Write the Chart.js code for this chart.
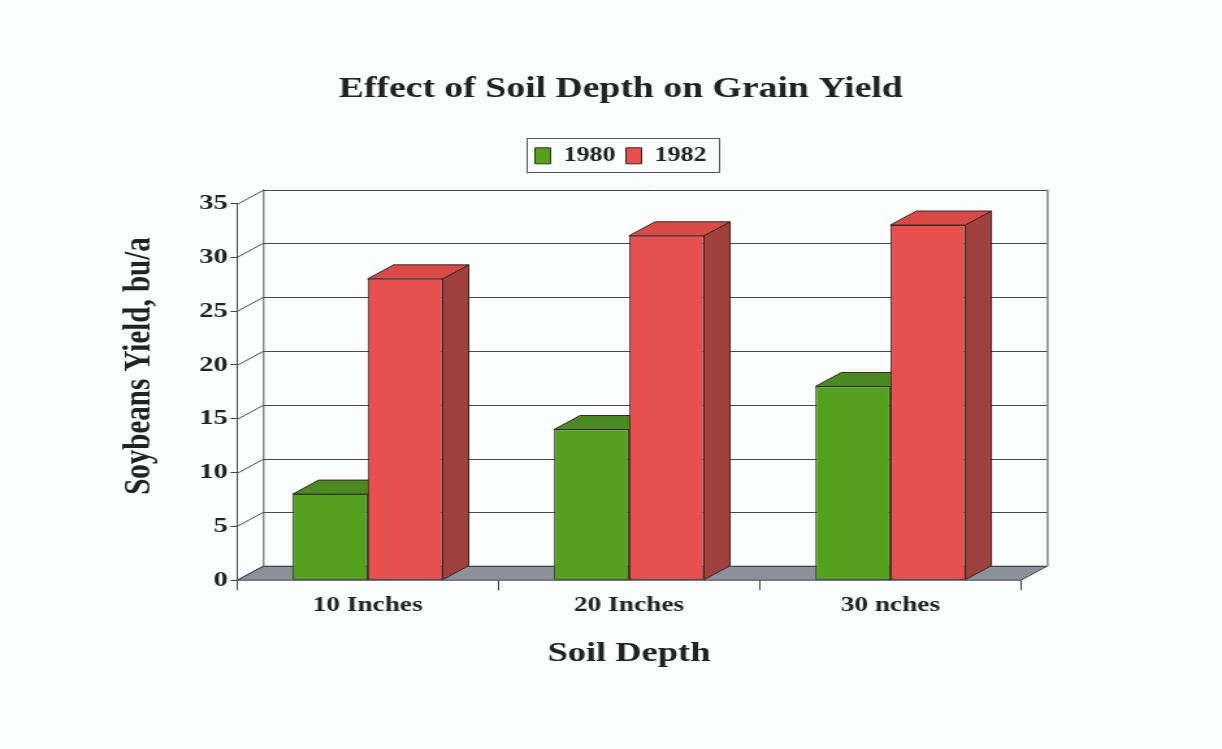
<!DOCTYPE html>
<html>
<head>
<meta charset="utf-8">
<script src="https://cdn.jsdelivr.net/npm/chart.js@4/dist/chart.umd.min.js"></script>
<style>
  html, body { margin: 0; padding: 0; background: #fcfefe; overflow: hidden; }
  #c { display: block; }
</style>
</head>
<body>
<canvas id="c" width="940" height="749" style="width:1222px;height:749px"></canvas>
<script>
const categories = ['10 Inches', '20 Inches', '30 nches'];
const yield1980 = [8, 14, 18];
const yield1982 = [28, 32, 33];
const seriesNames = ['1980', '1982'];
const yAxisTitle = 'Soybeans Yield, bu/a';

const DX = 20, DY = -14;
const FONT = '"Liberation Serif", "Times New Roman", serif';
const INK = '#222222';

function shade(ctx, pts, fill, stroke) {
  ctx.beginPath();
  ctx.moveTo(pts[0][0], pts[0][1]);
  for (let i = 1; i < pts.length; i++) ctx.lineTo(pts[i][0], pts[i][1]);
  ctx.closePath();
  ctx.fillStyle = fill; ctx.fill();
  ctx.strokeStyle = stroke; ctx.lineWidth = 1; ctx.stroke();
}

const topColors = ['#4b8a23', '#d84a46'];
const sideColors = ['#3e7420', '#9f413e'];

const threeD = {
  id: 'threeD',
  beforeDraw(chart) {
    const ctx = chart.ctx;
    ctx.save();
    ctx.fillStyle = '#fcfefe';
    ctx.fillRect(0, 0, chart.width, chart.height);
    ctx.restore();
  },
  beforeDatasetsDraw(chart) {
    const ctx = chart.ctx;
    const { left, right, top, bottom } = chart.chartArea;
    const y = chart.scales.y;
    ctx.save();
    shade(ctx, [[left, bottom], [right, bottom], [right + DX, bottom + DY], [left + DX, bottom + DY]], '#8a9199', '#4a4a4a');
    ctx.strokeStyle = '#4a4a4a';
    ctx.lineWidth = 1;
    y.ticks.forEach(t => {
      const py = Math.round(y.getPixelForValue(t.value)) + 0.5;
      ctx.beginPath();
      ctx.moveTo(left, py);
      ctx.lineTo(left + DX, py + DY);
      ctx.lineTo(right + DX, py + DY);
      ctx.stroke();
    });
    ctx.beginPath();
    ctx.moveTo(left + DX + 0.5, bottom + DY);
    ctx.lineTo(left + DX + 0.5, top + DY);
    ctx.moveTo(right + DX + 0.5, bottom + DY);
    ctx.lineTo(right + DX + 0.5, top + DY);
    ctx.stroke();
    chart.data.datasets.forEach((ds, di) => {
      chart.getDatasetMeta(di).data.forEach(el => {
        const p = el.getProps(['x', 'y', 'base', 'width'], true);
        const x0 = p.x - p.width / 2, x1 = p.x + p.width / 2;
        shade(ctx, [[x1, p.y], [x1 + DX, p.y + DY], [x1 + DX, p.base + DY], [x1, p.base]], sideColors[di], '#3a2626');
        shade(ctx, [[x0, p.y], [x1, p.y], [x1 + DX, p.y + DY], [x0 + DX, p.y + DY]], topColors[di], '#3a2626');
      });
    });
    ctx.restore();
  },
  afterDraw(chart) {
    const ctx = chart.ctx;
    const lg = chart.legend;
    ctx.save();
    if (lg && lg.legendHitBoxes && lg.legendHitBoxes.length) {
      const hb = lg.legendHitBoxes;
      const x0 = hb[0].left - 7;
      const last = hb[hb.length - 1];
      const x1 = last.left + last.width + 9;
      ctx.strokeStyle = '#555';
      ctx.lineWidth = 1;
      ctx.strokeRect(Math.round(x0) + 0.5, 138.5, Math.round(x1 - x0), 34);
    }
    ctx.translate(107.7, 366);
    ctx.rotate(-Math.PI / 2);
    ctx.fillStyle = INK;
    ctx.font = 'bold 29px ' + FONT;
    ctx.textAlign = 'center';
    ctx.textBaseline = 'middle';
    ctx.fillText(yAxisTitle, 0, 0);
    ctx.restore();
  }
};

new Chart(document.getElementById('c'), {
  type: 'bar',
  data: {
    labels: categories,
    datasets: [
      { label: seriesNames[0], data: yield1980, backgroundColor: '#56a01f', borderColor: '#2e3a22', borderWidth: 1, borderSkipped: false },
      { label: seriesNames[1], data: yield1982, backgroundColor: '#e8504f', borderColor: '#3a2626', borderWidth: 1, borderSkipped: false }
    ]
  },
  options: {
    responsive: false,
    animation: false,
    devicePixelRatio: 1,
    layout: { padding: { left: 25, right: 10, top: 72, bottom: 78 } },
    datasets: { bar: { barPercentage: 1.0, categoryPercentage: 0.574 } },
    plugins: {
      title: {
        display: true,
        text: 'Effect of Soil Depth on Grain Yield',
        color: INK,
        font: { family: FONT, size: 29, weight: 'bold' },
        padding: { top: 0, bottom: 31 }
      },
      legend: {
        display: true,
        labels: {
          color: INK,
          font: { family: FONT, size: 20, weight: 'bold' },
          boxWidth: 12, boxHeight: 16, padding: 8
        }
      },
      tooltip: { enabled: false }
    },
    scales: {
      x: {
        grid: { display: true, drawOnChartArea: false, drawTicks: true, tickLength: 10, color: '#444', offset: true },
        border: { display: false },
        ticks: { color: INK, font: { family: FONT, size: 21, weight: 'bold' }, padding: 3 },
        title: { display: true, text: 'Soil Depth', color: INK, font: { family: FONT, size: 28, weight: 'bold' }, padding: { top: 16, bottom: 0 } }
      },
      xT: {
        axis: 'x', type: 'linear', position: 'top', display: true,
        grid: { display: false }, border: { display: false }, ticks: { display: false },
        afterFit(s) { s.height = 27.7; }
      },
      y: {
        min: 0, max: 35,
        ticks: { stepSize: 5, color: INK, font: { family: FONT, size: 22, weight: 'bold' }, padding: 2 },
        grid: { display: true, drawOnChartArea: false, drawTicks: true, tickLength: 5, color: '#444' },
        border: { display: true, color: '#444' },
        afterFit(s) { s.width = 157.3; }
      },
      yR: {
        axis: 'y', type: 'linear', position: 'right', display: true,
        grid: { display: false }, border: { display: false }, ticks: { display: false },
        afterFit(s) { s.width = 144.6; }
      }
    }
  },
  plugins: [threeD]
});
</script>
</body>
</html>
